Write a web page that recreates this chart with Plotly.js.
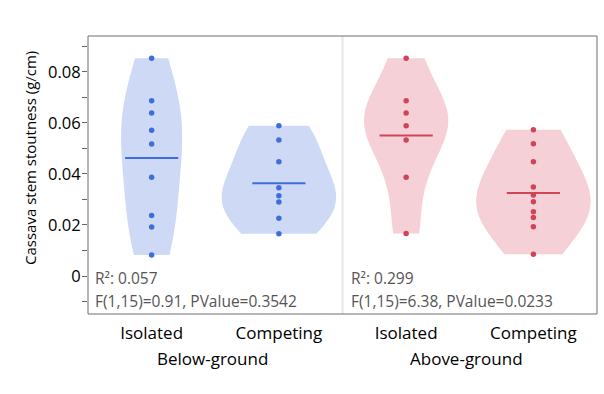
<!DOCTYPE html>
<html>
<head>
<meta charset="utf-8">
<script src="https://cdn.plot.ly/plotly-3.0.1.min.js"></script>
<style>html,body{margin:0;padding:0;background:#fff;}#chart{width:604px;height:394px;}</style>
</head>
<body>
<div id="chart"></div>
<script>
// Data
var treatments = ['Isolated', 'Competing'];
var groups = ['Below-ground', 'Above-ground'];

var belowIsolated = [0.0854, 0.0687, 0.0639, 0.0571, 0.0518, 0.0387, 0.0237, 0.0192, 0.0082];
var belowCompeting = [0.0589, 0.0533, 0.0448, 0.0346, 0.0315, 0.0290, 0.0226, 0.0166];
var aboveIsolated = [0.0854, 0.0687, 0.0639, 0.0589, 0.0533, 0.0387, 0.0167];
var aboveCompeting = [0.0573, 0.0519, 0.0448, 0.0349, 0.0318, 0.0291, 0.0252, 0.0229, 0.0193, 0.0085];

var yTitle = 'Cassava stem stoutness (g/cm)';
var statsBelow = ['R²: 0.057', 'F(1,15)=0.91, PValue=0.3542'];
var statsAbove = ['R²: 0.299', 'F(1,15)=6.38, PValue=0.0233'];

var yTickVals = [0, 0.02, 0.04, 0.06, 0.08];
var yTickText = ['0', '0.02', '0.04', '0.06', '0.08'];

var blueDot = '#3F6EDC', blueFill = '#CDD9F5';
var redDot = '#CF4459', redFill = '#F5D0D6';

function mean(a) { return a.reduce(function (s, v) { return s + v; }, 0) / a.length; }
function cats(a, c) { return a.map(function () { return c; }); }

function violin(vals, cat, xa, dot, fill, w, bw, grp) {
  return {
    type: 'violin', x: cats(vals, cat), y: vals,
    xaxis: xa, yaxis: 'y',
    points: 'all', jitter: 0, pointpos: 0,
    spanmode: 'hard', scalemode: 'width', scalegroup: grp, bandwidth: bw,
    width: w,
    fillcolor: fill, line: {width: 0, color: fill},
    marker: {color: dot, size: 5.5, line: {width: 0}},
    meanline: {visible: false}, box: {visible: false},
    hoverinfo: 'y', showlegend: false
  };
}
function meanMark(vals, cat, xa, dot) {
  return {
    type: 'scatter', mode: 'markers', x: [cat], y: [mean(vals)], xaxis: xa, yaxis: 'y',
    marker: {symbol: 'line-ew', size: 38, line: {width: 2, color: dot}},
    showlegend: false, hoverinfo: 'y'
  };
}

var data = [
  violin(belowIsolated, treatments[0], 'x', blueDot, blueFill, 0.48, 0.0185, 'a'),
  violin(belowCompeting, treatments[1], 'x', blueDot, blueFill, 0.90, 0.011, 'b'),
  violin(aboveIsolated, treatments[0], 'x2', redDot, redFill, 0.66, 0.012, 'c'),
  violin(aboveCompeting, treatments[1], 'x2', redDot, redFill, 0.90, 0.013, 'd'),
  meanMark(belowIsolated, treatments[0], 'x', blueDot),
  meanMark(belowCompeting, treatments[1], 'x', blueDot),
  meanMark(aboveIsolated, treatments[0], 'x2', redDot),
  meanMark(aboveCompeting, treatments[1], 'x2', redDot)
];

var font = '"Segoe UI", "Open Sans", "Noto Sans", sans-serif';
var xBase = {
  type: 'category', categoryorder: 'array', categoryarray: treatments,
  range: [-0.5, 1.5], showgrid: false, zeroline: false, showline: false,
  ticks: 'outside', ticklen: 4, tickcolor: 'rgba(0,0,0,0)',
  tickfont: {family: font, size: 17, color: '#000'}, fixedrange: true
};
var layout = {
  width: 604, height: 394,
  margin: {l: 88, r: 7, t: 36, b: 80},
  paper_bgcolor: '#fff', plot_bgcolor: '#fff',
  font: {family: font},
  violinmode: 'overlay',
  xaxis: Object.assign({}, xBase, {domain: [0, 0.5], anchor: 'y'}),
  xaxis2: Object.assign({}, xBase, {domain: [0.5, 1], anchor: 'y'}),
  yaxis: {
    range: [-0.0149, 0.0941], tickvals: yTickVals, ticktext: yTickText,
    ticks: 'outside', ticklen: 5, tickcolor: '#666', tickwidth: 1, ticklabelstandoff: -2,
    minor: {dtick: 0.01, tick0: 0, ticks: 'outside', ticklen: 5, tickcolor: '#666', showgrid: false},
    showgrid: false, zeroline: false, showline: false,
    tickfont: {family: font, size: 16.5, color: '#000'}
  },
  shapes: [
    {type: 'line', xref: 'paper', yref: 'paper', x0: 0.5, x1: 0.5, y0: 0, y1: 1,
      line: {color: '#E6E6E6', width: 2}},
    {type: 'rect', xref: 'paper', yref: 'paper', x0: 0, x1: 1, y0: 0, y1: 1,
      line: {color: '#6E6E6E', width: 1}, layer: 'above'}
  ],
  annotations: [
    {xref: 'paper', yref: 'paper', x: (30 - 88) / 509, y: (314 - 158) / 278, xanchor: 'center', yanchor: 'middle',
      textangle: -90, showarrow: false, text: yTitle, font: {family: font, size: 15, color: '#000'}},
    {xref: 'paper', yref: 'paper', x: (212 - 88) / 509, y: (314 - 358) / 278, xanchor: 'center', yanchor: 'middle',
      showarrow: false, text: groups[0], font: {family: font, size: 17, color: '#000'}},
    {xref: 'paper', yref: 'paper', x: (466 - 88) / 509, y: (314 - 358) / 278, xanchor: 'center', yanchor: 'middle',
      showarrow: false, text: groups[1], font: {family: font, size: 17, color: '#000'}},
    {xref: 'paper', yref: 'paper', x: 0.01, y: 0.129, xanchor: 'left', yanchor: 'middle', showarrow: false,
      text: statsBelow[0], font: {family: font, size: 15.5, color: '#555'}},
    {xref: 'paper', yref: 'paper', x: 0.01, y: 0.045, xanchor: 'left', yanchor: 'middle', showarrow: false,
      text: statsBelow[1], font: {family: font, size: 15.5, color: '#555'}},
    {xref: 'paper', yref: 'paper', x: 0.513, y: 0.129, xanchor: 'left', yanchor: 'middle', showarrow: false,
      text: statsAbove[0], font: {family: font, size: 15.5, color: '#555'}},
    {xref: 'paper', yref: 'paper', x: 0.513, y: 0.045, xanchor: 'left', yanchor: 'middle', showarrow: false,
      text: statsAbove[1], font: {family: font, size: 15.5, color: '#555'}}
  ]
};

Plotly.newPlot('chart', data, layout, {displayModeBar: false, staticPlot: true});
</script>
</body>
</html>
